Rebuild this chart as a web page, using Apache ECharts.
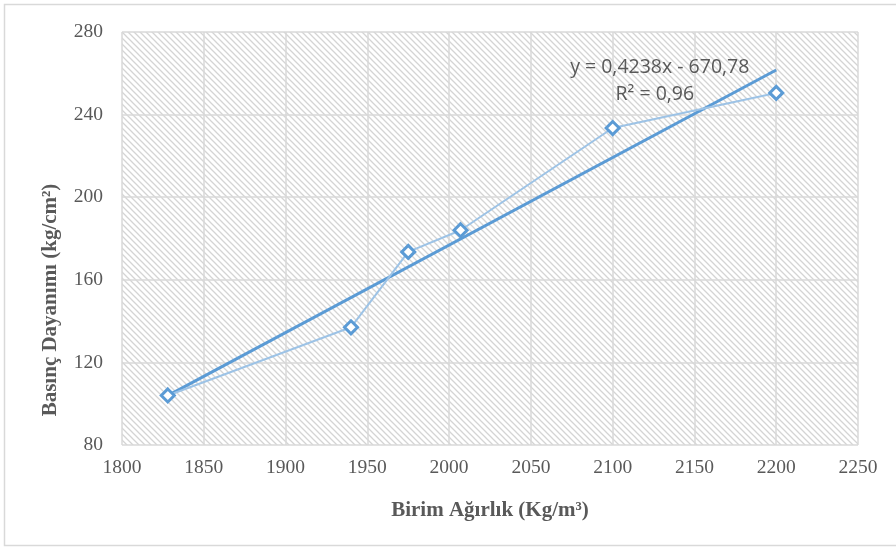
<!DOCTYPE html>
<html><head><meta charset="utf-8">
<script src="https://cdn.jsdelivr.net/npm/echarts@6/dist/echarts.min.js"></script>
<style>html,body{margin:0;padding:0;background:#fff}#c{width:896px;height:548px}</style>
</head><body><div id="c"></div>
<script>
const unitWeight = [1828, 1940, 1975, 2007, 2100, 2200];
const strength = [104, 137, 173.5, 184, 233.5, 250.5];
const trendSlope = 0.4238, trendIntercept = -670.78;
const trendX = [1828, 2200];
const xTicks = {min: 1800, max: 2250, interval: 50};
const yTicks = {min: 80, max: 280, interval: 40};
const eqText = 'y = 0,4238x - 670,78';
const r2Text = 'R² = 0,96';
const xTitle = 'Birim Ağırlık (Kg/m³)';
const yTitle = 'Basınç Dayanımı (kg/cm²)';

const pts = unitWeight.map((x, i) => [x, strength[i]]);
const trend = trendX.map(x => [x, trendSlope * x + trendIntercept]);

// hatch pattern
const pc = document.createElement('canvas');
pc.width = 6; pc.height = 6;
const g = pc.getContext('2d');
g.fillStyle = '#ffffff'; g.fillRect(0, 0, 6, 6);
g.strokeStyle = '#d4d4d4'; g.lineWidth = 1.3;
g.beginPath();
g.moveTo(-3, -3); g.lineTo(9, 9);
g.moveTo(-3, 3); g.lineTo(3, 9);
g.moveTo(3, -3); g.lineTo(9, 3);
g.stroke();

const chart = echarts.init(document.getElementById('c'), null, {renderer: 'canvas'});
const lab = {fontFamily: 'Liberation Serif', fontSize: 19.5, color: '#595959', formatter: v => String(v)};
chart.setOption({
  animation: false,
  graphic: [
    {type: 'rect', shape: {x: 4.5, y: 4.5, width: 900, height: 541}, style: {fill: null, stroke: '#d9d9d9', lineWidth: 1.5}, z: 0},
    {type: 'text', x: 51, y: 300, rotation: Math.PI / 2,
     style: {text: yTitle, font: 'bold 21px "Liberation Serif"', fill: '#595959', textAlign: 'center', textVerticalAlign: 'middle'}}
  ],
  grid: {left: 122, right: 38, top: 32, bottom: 103, show: true, backgroundColor: {image: pc, repeat: 'repeat'}, borderWidth: 0},
  xAxis: {type: 'value', min: xTicks.min, max: xTicks.max, interval: xTicks.interval,
    name: xTitle, nameLocation: 'middle', nameGap: 55,
    nameTextStyle: {fontFamily: 'Liberation Serif', fontSize: 21, fontWeight: 'bold', color: '#595959'},
    axisLine: {show: false}, axisTick: {show: false},
    axisLabel: Object.assign({margin: 13}, lab),
    splitLine: {show: true, lineStyle: {color: '#d9d9d9', width: 1.5}}},
  yAxis: {type: 'value', min: yTicks.min, max: yTicks.max, interval: yTicks.interval,
    axisLine: {show: false}, axisTick: {show: false},
    axisLabel: Object.assign({margin: 19}, lab),
    splitLine: {show: true, lineStyle: {color: '#d9d9d9', width: 1.5}}},
  series: [
    {type: 'line', data: pts, symbol: 'diamond', symbolSize: 13, showSymbol: true,
     lineStyle: {color: '#9dc3e6', width: 2},
     itemStyle: {color: '#ffffff', borderColor: '#5b9bd5', borderWidth: 3}, z: 3},
    {type: 'line', data: trend, symbol: 'none', lineStyle: {color: '#5b9bd5', width: 3}, z: 2,
     markPoint: {symbol: 'rect', symbolSize: 1, itemStyle: {color: 'transparent'},
       data: [
        {coord: [2128.8, 262.6], label: {show: true, position: 'inside', formatter: eqText, fontFamily: 'Open Sans', fontSize: 19.5, color: '#595959'}},
        {coord: [2125.8, 249.6], label: {show: true, position: 'inside', formatter: r2Text, fontFamily: 'Open Sans', fontSize: 19.5, color: '#595959'}}
       ]}}
  ]
});
</script></body></html>
